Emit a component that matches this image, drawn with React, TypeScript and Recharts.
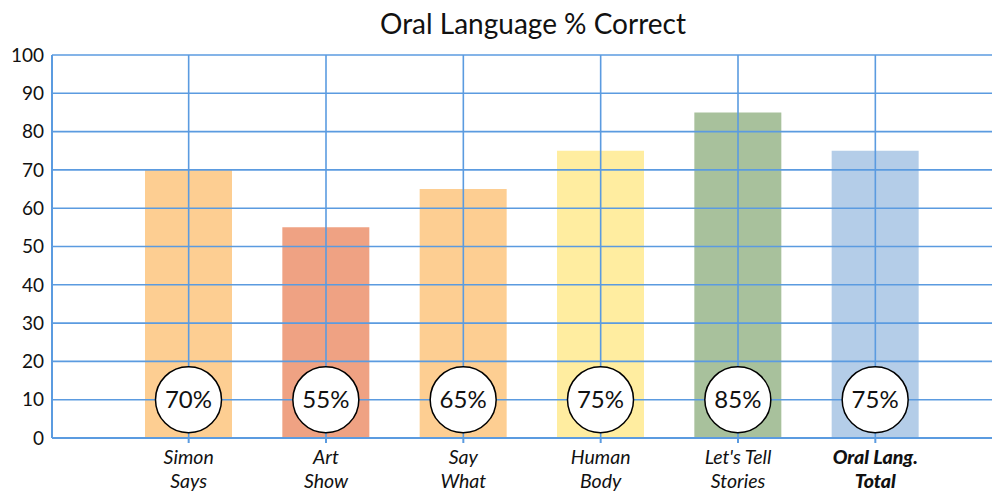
import React from "react";
import { ComposedChart, Bar, XAxis, YAxis, ReferenceLine, LabelList, Cell } from "recharts";

const categories = ["Simon Says", "Art Show", "Say What", "Human Body", "Let's Tell Stories", "Oral Lang. Total"];
const labelLines = [["Simon", "Says"], ["Art", "Show"], ["Say", "What"], ["Human", "Body"], ["Let's Tell", "Stories"], ["Oral Lang.", "Total"]];
const percentCorrect = [70, 55, 65, 75, 85, 75];
const barColors = ["#FDCE92", "#EFA283", "#FDCE92", "#FFEDA0", "#A8C19C", "#B4CDE8"];
const yTicks = [0, 10, 20, 30, 40, 50, 60, 70, 80, 90, 100];
const circleValue = 10;

const data = categories.map((c, i) => ({ name: c, value: percentCorrect[i] }));

const GRID = "#5B9BE0";
const FONT = "Lato, 'Open Sans', sans-serif";

const XTick = (props: any) => {
  const { x, y, payload, index } = props;
  const idx = categories.indexOf(payload.value);
  const lines = labelLines[idx >= 0 ? idx : index];
  const bold = idx === categories.length - 1;
  return (
    <text x={x} y={y} textAnchor="middle" fontFamily={FONT} fontSize={19.5} fontStyle="italic" fontWeight={bold ? 900 : 400} fill="#111">
      <tspan x={x} dy={19}>{lines[0]}</tspan>
      <tspan x={x} dy={23.5}>{lines[1]}</tspan>
    </text>
  );
};

const CircleLabel = (props: any) => {
  const { x, y, width, height, value } = props;
  const cx = x + width / 2;
  const cy = y + height - (height * circleValue) / value;
  return (
    <g>
      <circle cx={cx} cy={cy} r={33} fill="#fff" stroke="#000" strokeWidth={1.5} />
      <text x={cx} y={cy} dy={8.5} textAnchor="middle" fontFamily={FONT} fontSize={24} fill="#111">{value}%</text>
    </g>
  );
};

export default function App() {
  return (
    <div style={{ position: "relative", width: 992, height: 483 }}>
      <ComposedChart width={992} height={483} data={data} margin={{ top: 47, right: 0, bottom: 0, left: 0 }} barSize={87}>
        <XAxis dataKey="name" interval={0} padding={{ left: 68, right: 56 }} height={53} stroke={GRID} strokeWidth={2} tickSize={5} tick={<XTick />} />
        <XAxis xAxisId="over" dataKey="name" hide padding={{ left: 68, right: 56 }} />
        <YAxis domain={[0, 100]} ticks={yTicks} width={44} stroke={GRID} strokeWidth={2} tickLine={false} tick={{ fontFamily: FONT, fontSize: 19, fill: "#111" }} />
        <Bar dataKey="value" isAnimationActive={false}>
          {data.map((d, i) => (
            <Cell key={d.name} fill={barColors[i]} />
          ))}
        </Bar>
        {yTicks.map((t) => (
          <ReferenceLine key={"y" + t} y={t} stroke={GRID} strokeWidth={1.6} />
        ))}
        {categories.map((c) => (
          <ReferenceLine key={"x" + c} x={c} stroke={GRID} strokeWidth={1.6} />
        ))}
        <Bar dataKey="value" xAxisId="over" fill="transparent" isAnimationActive={false}>
          <LabelList dataKey="value" content={<CircleLabel />} />
        </Bar>
      </ComposedChart>
      <div style={{ position: "absolute", left: 325, width: 400, top: 0, lineHeight: "30px", textAlign: "center", fontFamily: FONT, fontSize: 28, color: "#111", whiteSpace: "nowrap" }}>
        Oral Language % Correct
      </div>
    </div>
  );
}
